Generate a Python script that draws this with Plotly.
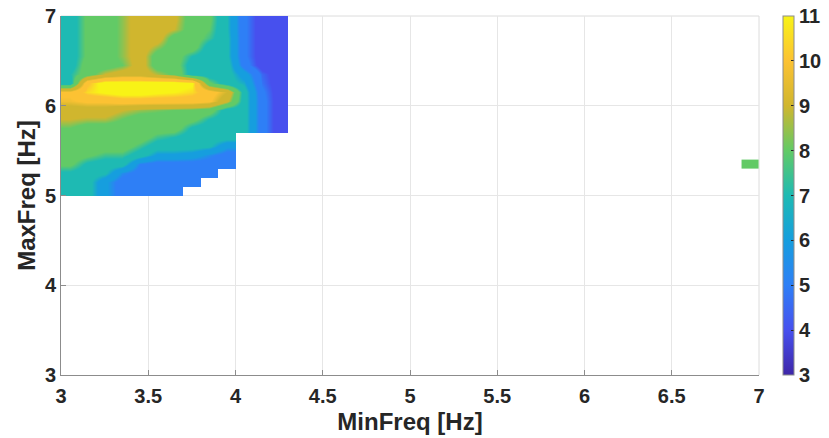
import plotly.graph_objects as go

# ---------------- data ----------------
# cell centres of the 0.1 Hz grid
min_freq = [3.05, 3.15, 3.25, 3.35, 3.45, 3.55, 3.65, 3.75, 3.85, 3.95, 4.05, 4.15, 4.25]
max_freq = [5.05, 5.15, 5.25, 5.35, 5.45, 5.55, 5.65, 5.75, 5.85, 5.95,
            6.05, 6.15, 6.25, 6.35, 6.45, 6.55, 6.65, 6.75, 6.85, 6.95]
N = None
row_505 = [7.0, 7.0, 5.8, 5.0, 5.0, 5.0, 5.0, N, N, N, N, N, N]
row_515 = [7.0, 7.0, 5.8, 5.0, 5.0, 5.0, 5.0, 5.0, N, N, N, N, N]
row_525 = [7.2, 7.0, 6.8, 5.5, 5.0, 5.0, 5.0, 5.0, 5.0, N, N, N, N]
row_535 = [7.8, 7.2, 7.0, 7.0, 5.3, 5.0, 5.0, 5.0, 5.0, 5.0, N, N, N]
row_545 = [8.0, 7.8, 7.5, 7.5, 7.0, 6.2, 6.2, 6.0, 5.5, 5.0, N, N, N]
row_555 = [8.0, 8.0, 8.0, 8.0, 7.5, 7.0, 7.0, 7.0, 6.8, 5.8, N, N, N]
row_565 = [8.0, 8.0, 8.0, 8.0, 8.0, 7.5, 7.3, 7.0, 7.0, 7.0, N, N, N]
row_575 = [8.3, 8.0, 8.0, 8.0, 8.0, 8.0, 8.0, 7.2, 7.0, 7.0, 7.0, 4.9, 4.0]
row_585 = [8.7, 8.6, 8.6, 8.3, 8.0, 8.0, 8.0, 7.9, 7.3, 7.0, 7.0, 4.9, 4.0]
row_595 = [9.0, 9.0, 9.0, 8.7, 8.5, 8.4, 8.3, 8.2, 8.0, 7.0, 7.0, 4.9, 4.0]
row_605 = [9.6, 9.8, 9.8, 10.0, 10.0, 10.0, 10.0, 10.0, 9.8, 8.8, 7.0, 4.9, 4.0]
row_615 = [9.8, 10.5, 10.8, 11.0, 11.0, 10.8, 10.7, 10.5, 10.0, 9.3, 7.0, 4.8, 4.0]
row_625 = [7.0, 10.2, 11.0, 11.0, 11.0, 11.0, 11.0, 10.8, 7.8, 7.0, 6.5, 4.6, 4.0]
row_635 = [7.3, 8.0, 8.7, 9.0, 9.0, 8.6, 8.2, 7.0, 7.0, 7.0, 6.0, 4.5, 4.0]
row_645 = [7.0, 8.0, 8.0, 8.3, 9.0, 8.0, 8.0, 7.0, 7.0, 7.0, 5.0, 4.0, 4.0]
row_655 = [7.0, 7.8, 8.0, 8.45, 9.0, 8.0, 8.0, 7.3, 7.0, 6.8, 4.8, 4.0, 4.0]
row_665 = [7.0, 7.8, 8.0, 8.45, 9.0, 8.5, 8.0, 8.0, 7.0, 6.8, 4.8, 4.0, 4.0]
row_675 = [7.0, 7.8, 8.0, 8.45, 9.0, 9.0, 8.0, 8.0, 7.5, 6.8, 4.8, 4.0, 4.0]
row_685 = [7.0, 7.8, 8.0, 8.45, 9.0, 9.0, 8.7, 8.0, 7.7, 6.7, 4.8, 4.0, 4.0]
row_695 = [7.0, 7.8, 8.0, 8.45, 9.0, 9.0, 8.8, 8.0, 7.8, 6.7, 4.8, 4.0, 4.0]

# isolated cell at MinFreq 6.9-7.0, MaxFreq 5.3-5.4
patch_min_edges = [6.9, 7.0]
patch_max_edges = [5.3, 5.4]
patch_value = 8.0

x_ticks = [3, 3.5, 4, 4.5, 5, 5.5, 6, 6.5, 7]
x_tick_text = ["3", "3.5", "4", "4.5", "5", "5.5", "6", "6.5", "7"]
y_ticks = [3, 4, 5, 6, 7]
cbar_ticks = [3, 4, 5, 6, 7, 8, 9, 10, 11]

# ---------------- styling ----------------
W, H = 829, 438
PL, PR, PT, PB = 61, 759, 16, 375      # plot-area pixel box
zmin, zmax = 3, 11
level_colors = {
    3: "rgb(62,38,168)",
    4: "rgb(71,80,238)",
    5: "rgb(46,127,246)",
    6: "rgb(22,158,222)",
    7: "rgb(30,186,179)",
    8: "rgb(98,202,102)",
    9: "rgb(208,182,46)",
    10: "rgb(252,194,51)",
    11: "rgb(248,243,22)",
}
w = 0.2
band_scale = [[0.0, level_colors[3]]]
for k in range(3, 11):
    b = k + 0.5
    band_scale.append([(b - w - zmin) / (zmax - zmin), level_colors[k]])
    band_scale.append([(b + w - zmin) / (zmax - zmin), level_colors[k + 1]])
band_scale.append([1.0, level_colors[11]])
smooth_scale = [[(k - zmin) / (zmax - zmin), level_colors[k]] for k in range(3, 12)]

z = [row_505, row_515, row_525, row_535, row_545, row_555, row_565, row_575,
     row_585, row_595, row_605, row_615, row_625, row_635, row_645, row_655,
     row_665, row_675, row_685, row_695]

FONT = "Liberation Sans, Arial, Helvetica, sans-serif"
TXT = "#262626"
AX = "#8c8c8c"
EDGE = "#dcdcdc"

ydom = [(H - PB) / H, (H - PT) / H]

fig = go.Figure()
fig.add_trace(go.Heatmap(
    x=min_freq, y=max_freq, z=z, zmin=zmin, zmax=zmax,
    colorscale=band_scale, zsmooth="best", showscale=False, hoverongaps=False,
))
fig.add_trace(go.Heatmap(
    x=patch_min_edges, y=patch_max_edges, z=[[patch_value]], zmin=zmin, zmax=zmax,
    colorscale=band_scale, zsmooth=False, showscale=False,
))
fig.add_trace(go.Scatter(
    x=[None], y=[None], mode="markers", showlegend=False, hoverinfo="skip",
    marker=dict(color=[zmin], cmin=zmin, cmax=zmax, colorscale=smooth_scale,
                showscale=True,
                colorbar=dict(
                    x=783 / W, xanchor="left", xpad=0, ypad=0,
                    y=(ydom[0] + ydom[1]) / 2, yanchor="middle",
                    len=(PB - PT) / H, lenmode="fraction",
                    thickness=11, outlinewidth=1, outlinecolor=AX,
                    tickvals=cbar_ticks, ticks="inside", ticklen=3, tickcolor=TXT,
                    tickfont=dict(family=FONT, size=20, color=TXT, weight="bold"),
                )),
))

axis_common = dict(
    showgrid=True, gridcolor="#e6e6e6", gridwidth=1, zeroline=False,
    showline=True, linecolor=AX, linewidth=1, ticks="inside", ticklen=5,
    tickcolor=AX, automargin=False,
    tickfont=dict(family=FONT, size=20, color=TXT, weight="bold"),
)
fig.update_xaxes(range=[3, 7], tickvals=x_ticks, ticktext=x_tick_text,
                 domain=[PL / W, PR / W], ticklabelstandoff=3,
                 title=dict(text="MinFreq [Hz]", standoff=7,
                            font=dict(family=FONT, size=24, color=TXT, weight="bold")),
                 **axis_common)
fig.update_yaxes(range=[3, 7], tickvals=y_ticks, domain=ydom,
                 title=dict(text="MaxFreq [Hz]", standoff=2,
                            font=dict(family=FONT, size=24, color=TXT, weight="bold")),
                 **axis_common)
# light box edges on top and right (axes frame)
fig.add_shape(type="line", xref="x domain", yref="y domain", x0=0, x1=1, y0=1, y1=1,
              line=dict(color=EDGE, width=1), layer="below")
fig.add_shape(type="line", xref="x domain", yref="y domain", x0=1, x1=1, y0=0, y1=1,
              line=dict(color=EDGE, width=1), layer="below")
fig.update_layout(
    width=W, height=H, margin=dict(l=0, r=0, t=0, b=0, pad=0),
    plot_bgcolor="white", paper_bgcolor="white", showlegend=False,
    font=dict(family=FONT, color=TXT),
)
fig.write_html("out.html", config={"displayModeBar": False},
               post_script="document.body.style.margin='0px';"
                           "document.body.style.overflow='hidden';")
